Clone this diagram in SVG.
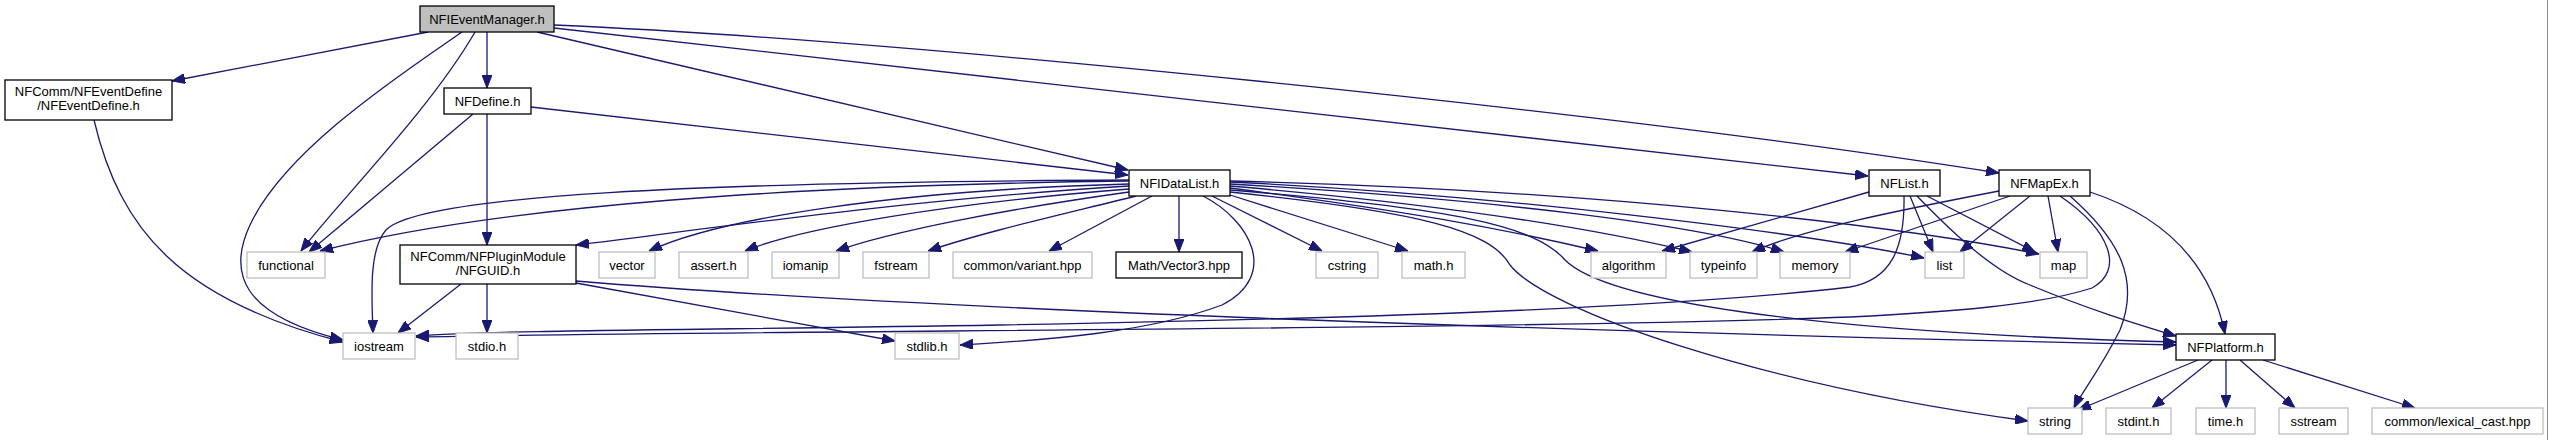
<svg xmlns="http://www.w3.org/2000/svg" width="2549" height="440" viewBox="0 0 2549 440">
<style>
.n rect{fill:#fff;stroke:#bfbfbf;stroke-width:1.3}
.n.d rect{stroke:#000}
.n.r rect{fill:#bfbfbf;stroke:#000}
text{font-family:"Liberation Sans",Arial,sans-serif;font-size:13px;text-anchor:middle;fill:#000}
#edges path{fill:none;stroke:#191970;stroke-width:1.3;marker-end:url(#a)}
</style>
<defs>
<marker id="a" markerUnits="userSpaceOnUse" markerWidth="13" markerHeight="10" refX="13" refY="5" orient="auto">
<path d="M0,0 L13,5 L0,10 z" fill="#191970" stroke="#191970" stroke-width="1"/>
</marker>
</defs>
<rect x="0" y="0" width="2549" height="440" fill="#fff"/>
<line x1="2547.5" y1="0" x2="2547.5" y2="440" stroke="#909090" stroke-width="1"/>
<g id="edges">
<path d="M428,32 L172,81"/>
<path d="M487,32 L487,88"/>
<path d="M462,32 C400,75 285,150 250,225 C228,272 240,315 343,340"/>
<path d="M475,32 C430,110 340,200 301,251"/>
<path d="M537,32 L1128,170"/>
<path d="M554,28 L1868,176"/>
<path d="M554,25 C900,40 1600,110 1999,173"/>
<path d="M94,120 C120,230 180,300 343,342"/>
<path d="M473,114 L309,252"/>
<path d="M531,107 L1128,175"/>
<path d="M487,114 L487,245"/>
<path d="M461,284 L398,333"/>
<path d="M487,284 L487,333"/>
<path d="M576,283 L895,341"/>
<path d="M576,281 C900,308 1500,330 2176,345"/>
<path d="M1129,181 C800,185 500,205 320,251"/>
<path d="M1129,180 C700,182 420,195 386,230 C368,250 372,300 373,333"/>
<path d="M1129,186 C900,200 700,230 576,245"/>
<path d="M1129,184 C900,190 720,218 649,251"/>
<path d="M1129,189 C950,203 800,228 745,251"/>
<path d="M1129,192 C1000,210 890,232 836,251"/>
<path d="M1136,196 C1060,215 980,233 928,251"/>
<path d="M1152,196 L1049,251"/>
<path d="M1179,196 L1179,252"/>
<path d="M1203,196 C1250,220 1280,275 1222,305 C1150,332 1050,340 960,345"/>
<path d="M1212,196 L1322,251"/>
<path d="M1230,195 L1408,251"/>
<path d="M1230,188 C1400,210 1500,228 1598,251"/>
<path d="M1230,186 C1450,205 1600,230 1692,252"/>
<path d="M1230,184 C1500,200 1700,225 1784,252"/>
<path d="M1230,182 C1500,195 1800,232 1924,258"/>
<path d="M1230,181 C1600,190 1900,226 2039,254"/>
<path d="M1230,192 C1420,212 1490,230 1510,265 C1545,310 1760,385 2028,421"/>
<path d="M1230,190 C1450,208 1535,225 1565,260 C1605,300 1800,332 2176,342"/>
<path d="M1869,192 L1662,251"/>
<path d="M1910,196 L1933,252"/>
<path d="M1927,196 L2035,252"/>
<path d="M1917,196 C1945,225 1990,270 2030,285 C2090,310 2140,325 2176,336"/>
<path d="M1904,196 C1905,250 1890,280 1850,287 C1700,305 1400,318 1000,325 C700,330 500,330 416,336"/>
<path d="M1999,191 C1900,210 1800,230 1752,252"/>
<path d="M2010,196 L1845,252"/>
<path d="M2030,196 L1960,252"/>
<path d="M2048,196 L2058,252"/>
<path d="M2060,196 C2110,230 2125,270 2092,288 C2040,305 1950,312 1850,317 C1500,330 800,330 416,337"/>
<path d="M2070,196 C2120,240 2140,280 2120,330 C2100,370 2080,395 2074,408"/>
<path d="M2090,192 C2160,215 2210,260 2225,334"/>
<path d="M2198,360 L2078,410"/>
<path d="M2212,360 L2152,408"/>
<path d="M2226,360 L2226,408"/>
<path d="M2240,360 L2295,408"/>
<path d="M2263,360 L2415,408"/>
</g>
<g id="n_NFIEventManager" class="n r"><rect x="420" y="6" width="134" height="26"/><text x="487" y="23.5">NFIEventManager.h</text></g>
<g id="n_NFEventDefine" class="n d"><rect x="5" y="80" width="167" height="40"/><text x="88.5" y="96">NFComm/NFEventDefine</text><text x="88.5" y="110">/NFEventDefine.h</text></g>
<g id="n_NFDefine" class="n d"><rect x="444" y="88" width="87" height="26"/><text x="487.5" y="105.5">NFDefine.h</text></g>
<g id="n_NFIDataList" class="n d"><rect x="1129" y="170" width="101" height="26"/><text x="1179.5" y="187.5">NFIDataList.h</text></g>
<g id="n_NFList" class="n d"><rect x="1869" y="170" width="71" height="26"/><text x="1904.5" y="187.5">NFList.h</text></g>
<g id="n_NFMapEx" class="n d"><rect x="1999" y="170" width="91" height="26"/><text x="2044.5" y="187.5">NFMapEx.h</text></g>
<g id="n_functional" class="n"><rect x="247" y="252" width="78" height="26"/><text x="286" y="269.5">functional</text></g>
<g id="n_NFGUID" class="n d"><rect x="400" y="245" width="176" height="39"/><text x="488" y="260.5">NFComm/NFPluginModule</text><text x="488" y="274.5">/NFGUID.h</text></g>
<g id="n_vector" class="n"><rect x="599" y="252" width="56" height="26"/><text x="627" y="269.5">vector</text></g>
<g id="n_assert" class="n"><rect x="679" y="252" width="69" height="26"/><text x="713.5" y="269.5">assert.h</text></g>
<g id="n_iomanip" class="n"><rect x="772" y="252" width="67" height="26"/><text x="805.5" y="269.5">iomanip</text></g>
<g id="n_fstream" class="n"><rect x="863" y="252" width="66" height="26"/><text x="896" y="269.5">fstream</text></g>
<g id="n_variant" class="n"><rect x="953" y="252" width="139" height="26"/><text x="1022.5" y="269.5">common/variant.hpp</text></g>
<g id="n_Vector3" class="n d"><rect x="1116" y="252" width="126" height="26"/><text x="1179" y="269.5">Math/Vector3.hpp</text></g>
<g id="n_cstring" class="n"><rect x="1316" y="252" width="62" height="26"/><text x="1347" y="269.5">cstring</text></g>
<g id="n_math" class="n"><rect x="1402" y="252" width="63" height="26"/><text x="1433.5" y="269.5">math.h</text></g>
<g id="n_algorithm" class="n"><rect x="1591" y="252" width="75" height="26"/><text x="1628.5" y="269.5">algorithm</text></g>
<g id="n_typeinfo" class="n"><rect x="1690" y="252" width="67" height="26"/><text x="1723.5" y="269.5">typeinfo</text></g>
<g id="n_memory" class="n"><rect x="1780" y="252" width="70" height="26"/><text x="1815" y="269.5">memory</text></g>
<g id="n_list" class="n"><rect x="1925" y="252" width="39" height="26"/><text x="1944.5" y="269.5">list</text></g>
<g id="n_map" class="n"><rect x="2040" y="252" width="47" height="26"/><text x="2063.5" y="269.5">map</text></g>
<g id="n_iostream" class="n"><rect x="343" y="333" width="72" height="26"/><text x="379" y="350.5">iostream</text></g>
<g id="n_stdio" class="n"><rect x="456" y="333" width="62" height="26"/><text x="487" y="350.5">stdio.h</text></g>
<g id="n_stdlib" class="n"><rect x="895" y="333" width="64" height="26"/><text x="927" y="350.5">stdlib.h</text></g>
<g id="n_NFPlatform" class="n d"><rect x="2176" y="334" width="99" height="26"/><text x="2225.5" y="351.5">NFPlatform.h</text></g>
<g id="n_string" class="n"><rect x="2028" y="408" width="54" height="26"/><text x="2055" y="425.5">string</text></g>
<g id="n_stdint" class="n"><rect x="2106" y="408" width="65" height="26"/><text x="2138.5" y="425.5">stdint.h</text></g>
<g id="n_time" class="n"><rect x="2196" y="408" width="59" height="26"/><text x="2225.5" y="425.5">time.h</text></g>
<g id="n_sstream" class="n"><rect x="2279" y="408" width="69" height="26"/><text x="2313.5" y="425.5">sstream</text></g>
<g id="n_lexical" class="n"><rect x="2372" y="408" width="171" height="26"/><text x="2457.5" y="425.5">common/lexical_cast.hpp</text></g>
</svg>
